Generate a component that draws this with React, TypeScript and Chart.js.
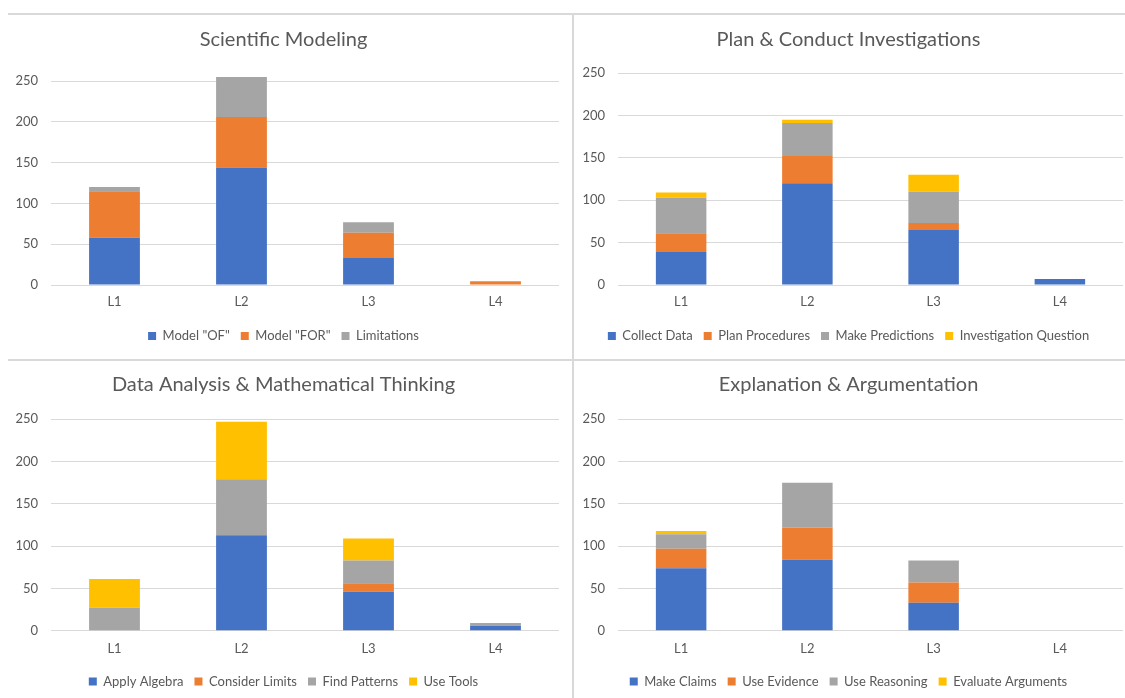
import React, { useEffect, useRef } from "react";
import { Chart, registerables } from "chart.js";

Chart.register(...registerables);

const categories = ["L1", "L2", "L3", "L4"];
const yTicksMax = 250;
const yTickStep = 50;

// Scientific Modeling
const modelOf = [58, 144, 33, 0];
const modelFor = [57, 62, 31, 4];
const limitations = [5, 49, 13, 1];

// Plan & Conduct Investigations
const collectData = [39, 120, 65, 7];
const planProcedures = [22, 32, 8, 0];
const makePredictions = [42, 39, 37, 0];
const investigationQuestion = [6, 4, 20, 0];

// Data Analysis & Mathematical Thinking
const applyAlgebra = [0, 113, 46, 6];
const considerLimits = [0, 0, 10, 0];
const findPatterns = [27, 66, 27, 3];
const useTools = [34, 68, 26, 0];

// Explanation & Argumentation
const makeClaims = [74, 84, 33, 0];
const useEvidence = [23, 38, 24, 0];
const useReasoning = [17, 53, 26, 0];
const evaluateArguments = [4, 0, 0, 0];

const BLUE = "#4472C4";
const ORANGE = "#ED7D31";
const GRAY = "#A5A5A5";
const YELLOW = "#FFC000";
const TEXT = "#595959";
const GRID = "#D9D9D9";
const FONT = "Lato, 'Open Sans', sans-serif";

type Series = { label: string; data: number[]; color: string };

type PanelProps = {
  title: string;
  series: Series[];
  left: number;
  top: number;
  width: number;
  height: number;
  titleTop: number;
  titleBottom: number;
  yWidth: number;
  padRight: number;
  xHeight: number;
  xPad: number;
  padBottom: number;
};

function Panel(p: PanelProps) {
  const ref = useRef<HTMLCanvasElement | null>(null);
  useEffect(() => {
    if (!ref.current) return;
    const chart = new Chart(ref.current, {
      type: "bar",
      data: {
        labels: categories,
        datasets: p.series.map((s) => ({
          label: s.label,
          data: s.data,
          backgroundColor: s.color,
          borderWidth: 0,
          categoryPercentage: 0.8,
          barPercentage: 0.5,
          clip: false,
        })),
      },
      options: {
        animation: false,
        responsive: false,
        devicePixelRatio: 1,
        layout: { padding: { left: 0, right: p.padRight, top: 0, bottom: p.padBottom } },
        plugins: {
          title: {
            display: true,
            text: p.title,
            color: TEXT,
            font: { family: FONT, size: 20, weight: "normal", lineHeight: 1.2 },
            padding: { top: p.titleTop, bottom: p.titleBottom },
          },
          legend: {
            display: true,
            position: "bottom",
            labels: {
              color: TEXT,
              font: { family: FONT, size: 13 },
              boxWidth: 8,
              boxHeight: 8,
              padding: 11,
            },
          },
          tooltip: { enabled: false },
        },
        scales: {
          x: {
            stacked: true,
            grid: { display: false, drawTicks: false },
            border: { display: false },
            ticks: { color: TEXT, font: { family: FONT, size: 13 }, padding: p.xPad },
            afterFit: (scale: any) => {
              scale.height = p.xHeight;
            },
          },
          y: {
            stacked: true,
            min: 0,
            max: yTicksMax,
            ticks: { stepSize: yTickStep, color: TEXT, font: { family: FONT, size: 13 }, padding: 13 },
            grid: { color: GRID, lineWidth: 1, drawTicks: false },
            border: { display: false },
            afterFit: (scale: any) => {
              scale.width = p.yWidth;
            },
          },
        },
      },
    });
    return () => chart.destroy();
  }, []);
  return (
    <canvas
      ref={ref}
      width={p.width}
      height={p.height}
      style={{ position: "absolute", left: p.left, top: p.top, width: p.width, height: p.height }}
    />
  );
}

export default function App() {
  const line = (l: number, t: number, w: number, h: number) => (
    <div style={{ position: "absolute", left: l, top: t, width: w, height: h, background: GRID }} />
  );
  return (
    <div style={{ position: "fixed", left: 0, top: 0, width: 1125, height: 698, background: "#fff", overflow: "hidden" }}>
      <Panel
        title="Scientific Modeling"
        series={[
          { label: 'Model "OF"', data: modelOf, color: BLUE },
          { label: 'Model "FOR"', data: modelFor, color: ORANGE },
          { label: "Limitations", data: limitations, color: GRAY },
        ]}
        left={8} top={14} width={564} height={346}
        titleTop={14} titleBottom={29}
        yWidth={43} padRight={13} xHeight={33.5} xPad={9} padBottom={7.5}
      />
      <Panel
        title="Plan & Conduct Investigations"
        series={[
          { label: "Collect Data", data: collectData, color: BLUE },
          { label: "Plan Procedures", data: planProcedures, color: ORANGE },
          { label: "Make Predictions", data: makePredictions, color: GRAY },
          { label: "Investigation Question", data: investigationQuestion, color: YELLOW },
        ]}
        left={574} top={14} width={551} height={346}
        titleTop={14} titleBottom={21}
        yWidth={44} padRight={2} xHeight={33.5} xPad={9} padBottom={7.5}
      />
      <Panel
        title="Data Analysis & Mathematical Thinking"
        series={[
          { label: "Apply Algebra", data: applyAlgebra, color: BLUE },
          { label: "Consider Limits", data: considerLimits, color: ORANGE },
          { label: "Find Patterns", data: findPatterns, color: GRAY },
          { label: "Use Tools", data: useTools, color: YELLOW },
        ]}
        left={8} top={361} width={564} height={337}
        titleTop={12} titleBottom={22.3}
        yWidth={43} padRight={13} xHeight={33.3} xPad={10} padBottom={0}
      />
      <Panel
        title="Explanation & Argumentation"
        series={[
          { label: "Make Claims", data: makeClaims, color: BLUE },
          { label: "Use Evidence", data: useEvidence, color: ORANGE },
          { label: "Use Reasoning", data: useReasoning, color: GRAY },
          { label: "Evaluate Arguments", data: evaluateArguments, color: YELLOW },
        ]}
        left={574} top={361} width={551} height={337}
        titleTop={12} titleBottom={22.3}
        yWidth={44} padRight={2} xHeight={33.3} xPad={10} padBottom={0}
      />
      {line(8, 13, 1117, 2)}
      {line(572, 13, 2, 685)}
      {line(8, 359, 1117, 2)}
    </div>
  );
}
